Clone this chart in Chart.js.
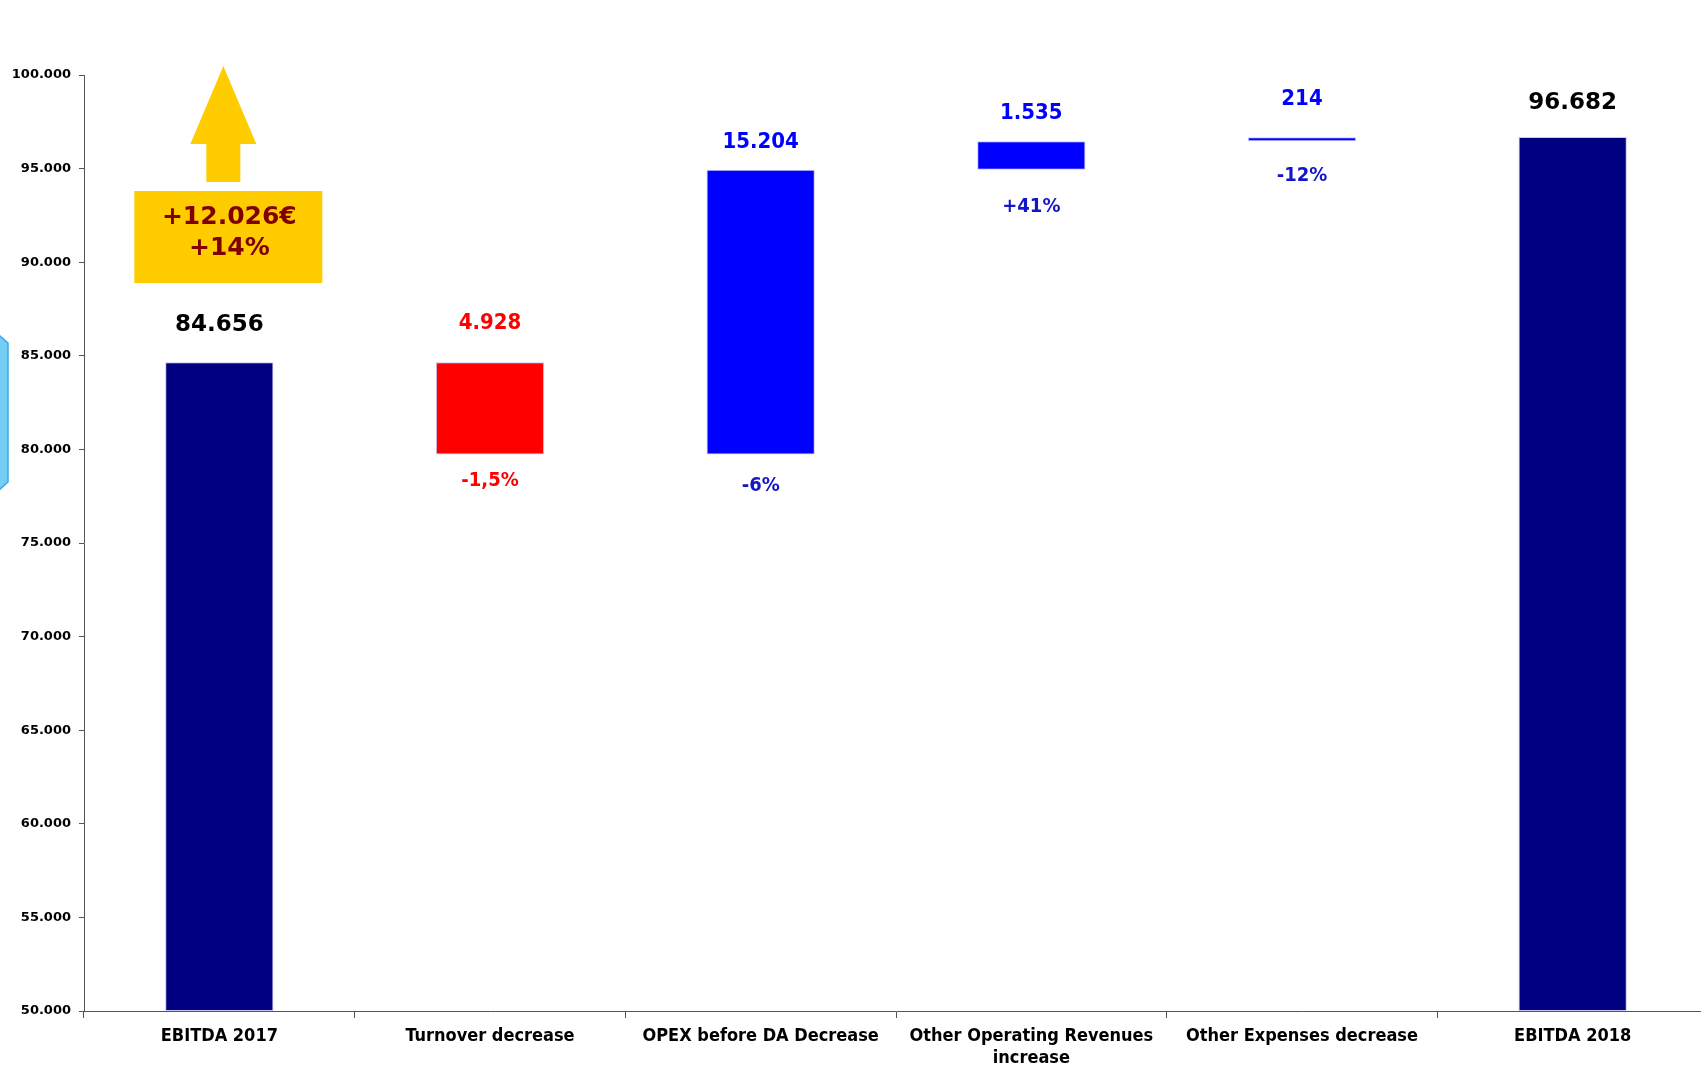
<!DOCTYPE html>
<html>
<head>
<meta charset="utf-8">
<script src="https://cdn.jsdelivr.net/npm/chart.js@4.4.1/dist/chart.umd.min.js"></script>
<style>
  html, body { margin: 0; padding: 0; background: #fff; overflow: hidden; }
  #wrap { width: 1708px; height: 1066px; }
</style>
</head>
<body>
<div id="wrap"><canvas id="waterfall"></canvas></div>
<script>
// categories and bar ranges (floating bars: [from, to])
const categories = ['EBITDA 2017', 'Turnover decrease', 'OPEX before DA Decrease',
  ['Other Operating Revenues', 'increase'], 'Other Expenses decrease', 'EBITDA 2018'];
const barRanges = [
  [50000, 84656],
  [79728, 84656],
  [79728, 94932],
  [94932, 96467],
  [96467, 96681],
  [50000, 96682]
];
const valueLabels = ['84.656', '4.928', '15.204', '1.535', '214', '96.682'];
const pctLabels = ['', '-1,5%', '-6%', '+41%', '-12%', ''];
const totalChange = ['+12.026€', '+14%'];

// styling
const barColors = ['#000080', '#ff0000', '#0000ff', '#0000ff', '#0000ff', '#000080'];
const valueColors = ['#000000', '#ff0000', '#0000ff', '#0000ff', '#0000ff', '#000000'];
const pctColors = ['', '#ff0000', '#1414c8', '#1414c8', '#1414c8', ''];
const valueOffset = [-37, -39, -28, -28, -38, -34];
const pctOffset = [0, 26, 31, 37, 35, 0];

function fmtThousands(v) {
  return String(v).replace(/\B(?=(\d{3})+(?!\d))/g, '.');
}

const labelsPlugin = {
  id: 'labelsPlugin',
  afterDatasetsDraw(chart) {
    const ctx = chart.ctx;
    const meta = chart.getDatasetMeta(0);
    const y = chart.scales.y;
    ctx.save();
    ctx.textAlign = 'center';
    ctx.textBaseline = 'middle';
    meta.data.forEach((bar, i) => {
      const top = Math.min(bar.y, bar.base);
      const bottom = Math.max(bar.y, bar.base);
      const big = valueColors[i] === '#000000';
      ctx.font = big ? 'bold 23px "DejaVu Sans"' : 'bold 22px "DejaVu Sans Condensed"';
      ctx.fillStyle = valueColors[i];
      ctx.fillText(valueLabels[i], bar.x, top + valueOffset[i]);
      if (pctLabels[i]) {
        ctx.font = 'bold 20px "DejaVu Sans Condensed"';
        ctx.fillStyle = pctColors[i];
        ctx.fillText(pctLabels[i], bar.x, bottom + pctOffset[i]);
      }
    });

    // yellow arrow + box over the first bar
    const cx = meta.data[0].x;
    ctx.fillStyle = '#ffcc00';
    const apex = y.getPixelForValue(100480);
    const headBase = y.getPixelForValue(96314);
    const shaftEnd = y.getPixelForValue(94284);
    ctx.beginPath();
    ctx.moveTo(cx + 4, apex);
    ctx.lineTo(cx + 37, headBase);
    ctx.lineTo(cx + 21, headBase);
    ctx.lineTo(cx + 21, shaftEnd);
    ctx.lineTo(cx - 13, shaftEnd);
    ctx.lineTo(cx - 13, headBase);
    ctx.lineTo(cx - 29, headBase);
    ctx.closePath();
    ctx.fill();
    const boxTop = y.getPixelForValue(93803);
    const boxBottom = y.getPixelForValue(88889);
    ctx.fillRect(cx - 85, boxTop, 188, boxBottom - boxTop);
    ctx.fillStyle = '#800000';
    ctx.font = 'bold 25px "DejaVu Sans"';
    ctx.fillText(totalChange[0], cx + 10, boxTop + 26);
    ctx.fillText(totalChange[1], cx + 10, boxTop + 57);

    // cut-off light blue shape at the left edge
    const sTop = y.getPixelForValue(86160);
    const sBot = y.getPixelForValue(77780);
    ctx.fillStyle = '#74cdf5';
    ctx.strokeStyle = '#3aa8ee';
    ctx.lineWidth = 1.5;
    ctx.beginPath();
    ctx.moveTo(-2, sTop);
    ctx.lineTo(8, sTop + 9);
    ctx.lineTo(8, sBot - 9);
    ctx.lineTo(-2, sBot);
    ctx.closePath();
    ctx.fill();
    ctx.stroke();
    ctx.restore();
  }
};

new Chart(document.getElementById('waterfall'), {
  type: 'bar',
  data: {
    labels: categories,
    datasets: [{
      data: barRanges,
      backgroundColor: barColors,
      borderColor: 'rgba(160,160,230,0.6)',
      borderWidth: 1,
      borderSkipped: false,
      categoryPercentage: 1,
      barPercentage: 0.4
    }]
  },
  options: {
    responsive: true,
    maintainAspectRatio: false,
    animation: false,
    layout: { padding: { top: 75, left: 0, right: 0, bottom: 0 } },
    plugins: {
      legend: { display: false },
      tooltip: { enabled: false }
    },
    scales: {
      x: {
        afterFit(scale) { scale.height = 55; },
        border: { display: true, color: '#555555', width: 1 },
        grid: { display: true, drawOnChartArea: false, drawTicks: true, tickLength: 7, color: '#555555', offset: true },
        ticks: {
          color: '#000',
          padding: 8,
          maxRotation: 0,
          autoSkip: false,
          font: { family: '"DejaVu Sans Condensed"', weight: 'bold', size: 18, lineHeight: 1.2 }
        }
      },
      y: {
        min: 50000,
        max: 100000,
        afterFit(scale) { scale.width = 84; },
        border: { display: true, color: '#555555', width: 1 },
        grid: { display: true, drawOnChartArea: false, drawTicks: true, tickLength: 5, color: '#555555' },
        ticks: {
          stepSize: 5000,
          color: '#000',
          padding: 8,
          font: { family: '"DejaVu Sans"', weight: 'bold', size: 13 },
          callback: (v) => fmtThousands(v)
        }
      }
    }
  },
  plugins: [labelsPlugin]
});
</script>
</body>
</html>
